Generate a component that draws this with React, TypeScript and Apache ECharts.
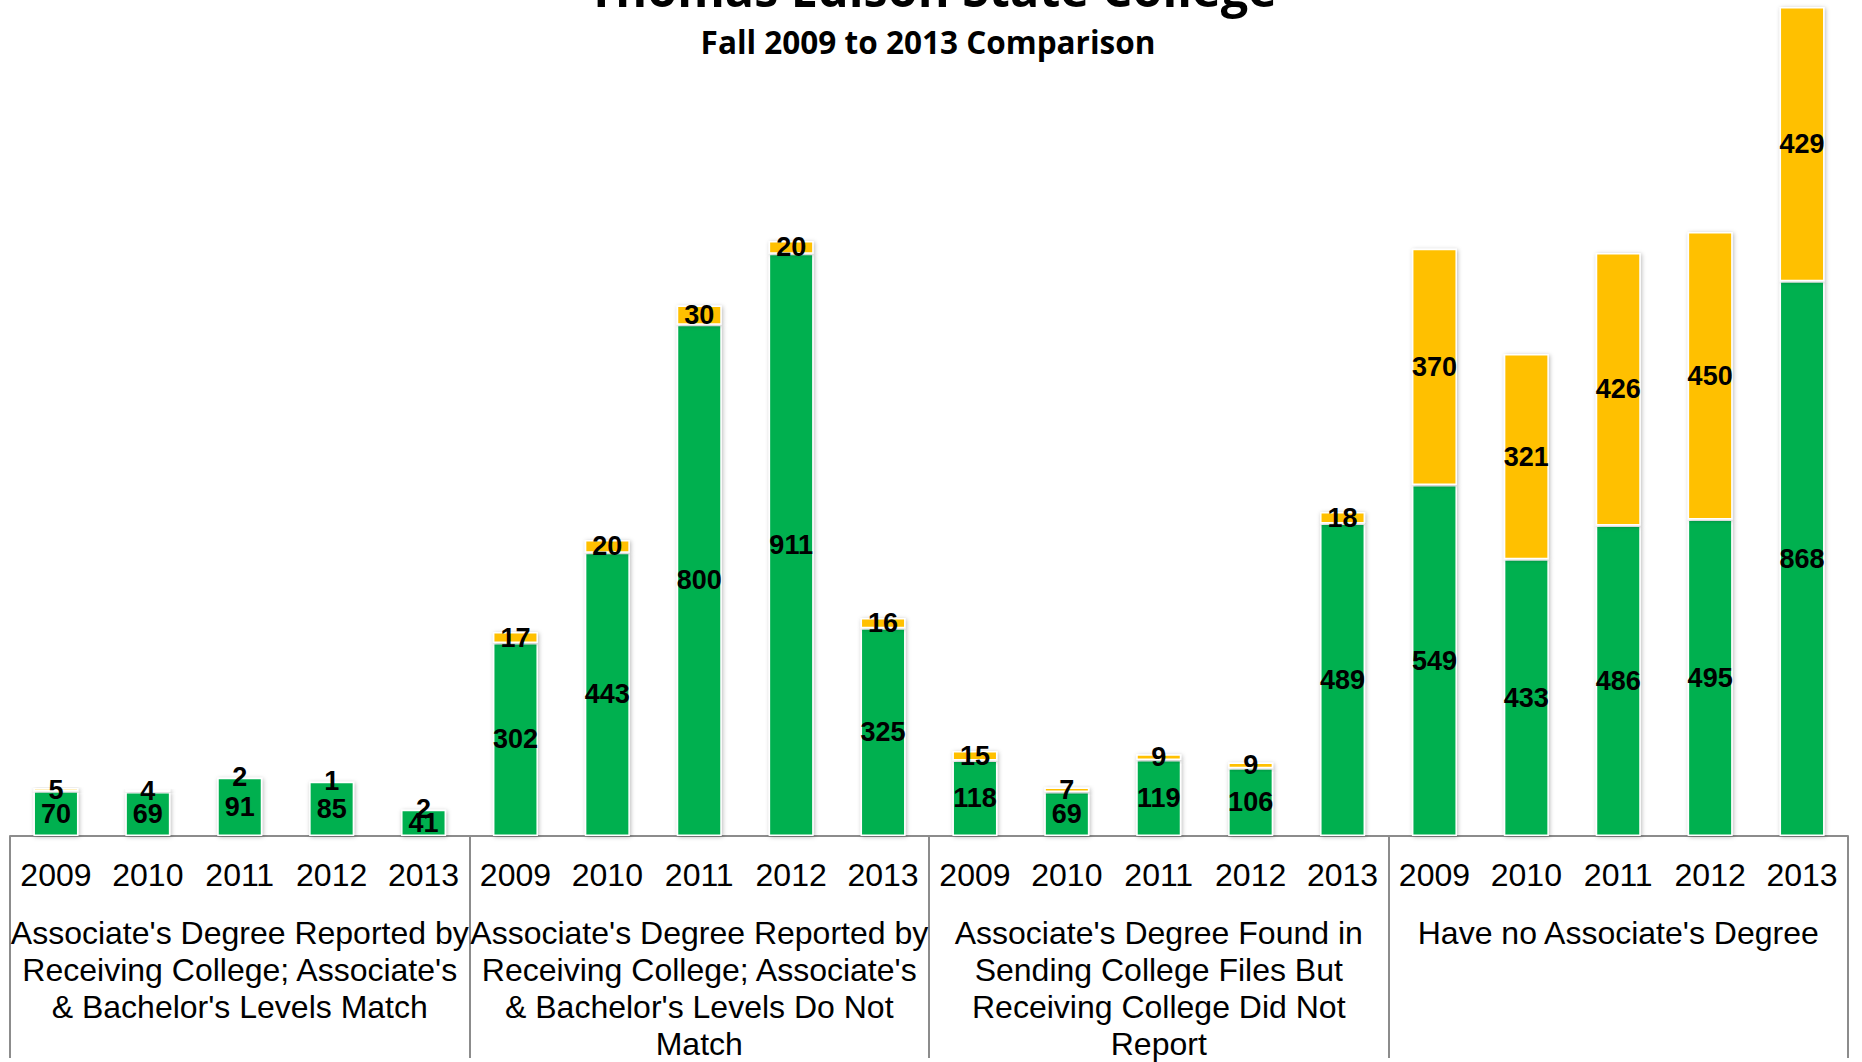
import React, { useEffect, useRef } from "react";
import * as echarts from "echarts";

const years = [
  "2009", "2010", "2011", "2012", "2013",
  "2009", "2010", "2011", "2012", "2013",
  "2009", "2010", "2011", "2012", "2013",
  "2009", "2010", "2011", "2012", "2013",
];

const groups = [
  "Associate's Degree Reported by\nReceiving College; Associate's\n& Bachelor's Levels Match",
  "Associate's Degree Reported by\nReceiving College; Associate's\n& Bachelor's Levels Do Not\nMatch",
  "Associate's Degree Found in\nSending College Files But\nReceiving College Did Not\nReport",
  "Have no Associate's Degree",
];

const greenValues = [
  70, 69, 91, 85, 41,
  302, 443, 800, 911, 325,
  118, 69, 119, 106, 489,
  549, 433, 486, 495, 868,
];

const yellowValues = [
  5, 4, 2, 1, 2,
  17, 20, 30, 20, 16,
  15, 7, 9, 9, 18,
  370, 321, 426, 450, 429,
];

const titleText = "Thomas Edison State College";
const subtitleText = "Fall 2009 to 2013 Comparison";

export default function App() {
  const ref = useRef<HTMLDivElement>(null);

  useEffect(() => {
    if (!ref.current) return;
    const chart = echarts.init(ref.current, null, { renderer: "svg" });
    const axisColor = "#8c8c8c";
    const font = "Liberation Sans, Arial, sans-serif";
    const labelStyle = {
      show: true,
      position: "inside" as const,
      color: "#000",
      fontFamily: font,
      fontWeight: "bold" as const,
      fontSize: 27,
    };
    const itemBase = {
      borderColor: "#ffffff",
      borderWidth: 1.5,
      shadowBlur: 4,
      shadowColor: "rgba(0,0,0,0.28)",
      shadowOffsetX: 1,
      shadowOffsetY: 1,
    };
    chart.setOption({
      animation: false,
      backgroundColor: "#ffffff",
      graphic: [
        {
          type: "text",
          x: 932,
          y: -12,
          style: {
            text: titleText,
            fontFamily: "Open Sans, sans-serif",
            fontWeight: "bold",
            fontSize: 48.5,
            fill: "#000",
            align: "center",
            verticalAlign: "middle",
          },
        },
        {
          type: "text",
          x: 928,
          y: 41,
          style: {
            text: subtitleText,
            fontFamily: "Open Sans, sans-serif",
            fontWeight: "bold",
            fontSize: 31.5,
            fill: "#000",
            align: "center",
            verticalAlign: "middle",
          },
        },
      ],
      grid: { left: 10, right: 14, top: 0, bottom: 222, containLabel: false },
      xAxis: [
        {
          type: "category",
          data: years,
          position: "bottom",
          axisLine: { show: true, lineStyle: { color: axisColor, width: 2 } },
          axisTick: { show: false },
          axisLabel: {
            interval: 0,
            margin: 23,
            fontSize: 32,
            color: "#000",
            fontFamily: font,
          },
        },
        {
          type: "category",
          data: groups,
          position: "bottom",
          axisLine: { show: false },
          axisTick: {
            show: true,
            length: 222,
            lineStyle: { color: axisColor, width: 2 },
          },
          axisLabel: {
            interval: 0,
            margin: 78,
            fontSize: 32,
            lineHeight: 37,
            color: "#000",
            align: "center",
            fontFamily: font,
          },
        },
      ],
      yAxis: {
        type: "value",
        min: 0,
        max: 1308,
        show: false,
        splitLine: { show: false },
      },
      series: [
        {
          name: "Green",
          type: "bar",
          stack: "total",
          xAxisIndex: 0,
          barWidth: 45,
          data: greenValues,
          itemStyle: { ...itemBase, color: "#00B050" },
          label: labelStyle,
        },
        {
          name: "Yellow",
          type: "bar",
          stack: "total",
          xAxisIndex: 0,
          barWidth: 45,
          data: yellowValues,
          itemStyle: { ...itemBase, color: "#FFC000" },
          label: labelStyle,
        },
      ],
    });
    return () => chart.dispose();
  }, []);

  return (
    <div
      ref={ref}
      style={{ position: "fixed", left: 0, top: 0, width: 1862, height: 1062 }}
    />
  );
}
